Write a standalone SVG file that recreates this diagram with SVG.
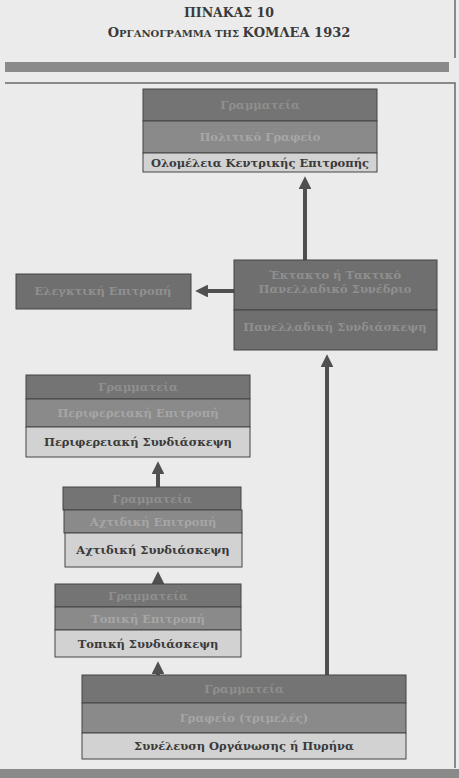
<svg xmlns="http://www.w3.org/2000/svg" width="459" height="778" viewBox="0 0 459 778">
<style>
.bg{fill:#ebebeb}
.frame{stroke:#6a6a6a;stroke-width:1.5;fill:none}
.bar{fill:#8a8a8a}
.r1{fill:#747474;stroke:#444;stroke-width:1}
.r2{fill:#8a8a8a;stroke:#444;stroke-width:1}
.r3{fill:#d2d2d2;stroke:#444;stroke-width:1}
.dk{fill:#6f6f6f;stroke:#444;stroke-width:1}
.t{font-family:"DejaVu Serif","Liberation Serif",serif;font-weight:bold;text-anchor:middle;font-size:11.5px}
.tl{fill:#3a3a3a}
.td{fill:#8f8f8f}
.tm{fill:#a6a6a6}
.title{font-family:"DejaVu Serif","Liberation Serif",serif;font-weight:bold;text-anchor:middle;fill:#3a3a3a}
.ar{stroke:#505050;stroke-width:4;fill:none}
</style>
<defs>
<marker id="ah" viewBox="0 0 10 10" refX="7" refY="5" markerWidth="3.2" markerHeight="3.2" orient="auto" markerUnits="strokeWidth">
<path d="M0,0 L10,5 L0,10 z" fill="#505050"/>
</marker>
</defs>
<rect class="bg" x="0" y="0" width="459" height="778"/>
<g id="header">
<path class="frame" d="M455,0 V58"/>
<text class="title" x="229" y="17" font-size="12.5">ΠΙΝΑΚΑΣ 10</text>
<text class="title" x="229" y="37" font-size="13">Ο<tspan font-size="10">ΡΓΑΝΟΓΡΑΜΜΑ ΤΗΣ </tspan>ΚΟΜΛΕΑ 1932</text>
<rect class="bar" x="5" y="62" width="444" height="10"/>
<path class="frame" d="M5,83 H455 V768"/>
<rect class="bar" x="0" y="769" width="459" height="9"/>
</g>
<g id="connectors">
<line class="ar" x1="305" y1="260" x2="305" y2="180" marker-end="url(#ah)"/>
<line class="ar" x1="234" y1="291" x2="199" y2="291" marker-end="url(#ah)"/>
<line class="ar" x1="327" y1="676" x2="327" y2="358" marker-end="url(#ah)"/>
<line class="ar" x1="158" y1="487" x2="158" y2="465" marker-end="url(#ah)"/>
<line class="ar" x1="158" y1="584" x2="158" y2="575" marker-end="url(#ah)"/>
<line class="ar" x1="158" y1="676" x2="158" y2="665" marker-end="url(#ah)"/>
</g>
<g id="central">
<rect class="r1" x="143" y="89" width="234" height="32"/>
<rect class="r2" x="143" y="121" width="234" height="32"/>
<rect class="r3" x="143" y="153" width="234" height="19"/>
<text class="t td" x="260" y="109">Γραμματεία</text>
<text class="t tm" x="260" y="141">Πολιτικό Γραφείο</text>
<text class="t tl" x="260" y="167">Ολομέλεια Κεντρικής Επιτροπής</text>
</g>
<g id="control">
<rect class="dk" x="16" y="274" width="175" height="35"/>
<text class="t td" x="103" y="295">Ελεγκτική Επιτροπή</text>
</g>
<g id="congress">
<rect class="dk" x="234" y="260" width="203" height="50"/>
<rect class="dk" x="234" y="310" width="203" height="40"/>
<text class="t td" x="335" y="279">Έκτακτο ή Τακτικό</text>
<text class="t td" x="335" y="293">Πανελλαδικό Συνέδριο</text>
<text class="t td" x="335" y="331">Πανελλαδική Συνδιάσκεψη</text>
</g>
<g id="regional">
<rect class="r1" x="26" y="375" width="224" height="24"/>
<rect class="r2" x="26" y="399" width="224" height="28"/>
<rect class="r3" x="26" y="427" width="224" height="30"/>
<text class="t td" x="138" y="391">Γραμματεία</text>
<text class="t tm" x="138" y="417">Περιφερειακή Επιτροπή</text>
<text class="t tl" x="138" y="446">Περιφερειακή Συνδιάσκεψη</text>
</g>
<g id="ray">
<rect class="r1" x="63" y="487" width="178" height="23"/>
<rect class="r2" x="64" y="510" width="178" height="23"/>
<rect class="r3" x="65" y="533" width="177" height="34"/>
<text class="t td" x="152" y="503">Γραμματεία</text>
<text class="t tm" x="153" y="526">Αχτιδική Επιτροπή</text>
<text class="t tl" x="153" y="554">Αχτιδική Συνδιάσκεψη</text>
</g>
<g id="local">
<rect class="r1" x="55" y="584" width="186" height="23"/>
<rect class="r2" x="55" y="607" width="186" height="23"/>
<rect class="r3" x="55" y="630" width="186" height="27"/>
<text class="t td" x="148" y="600">Γραμματεία</text>
<text class="t tm" x="148" y="623">Τοπική Επιτροπή</text>
<text class="t tl" x="148" y="648">Τοπική Συνδιάσκεψη</text>
</g>
<g id="cell">
<rect class="r1" x="82" y="675" width="324" height="28"/>
<rect class="r2" x="82" y="703" width="324" height="30"/>
<rect class="r3" x="82" y="733" width="324" height="26"/>
<text class="t td" x="244" y="693">Γραμματεία</text>
<text class="t tm" x="244" y="722">Γραφείο (τριμελές)</text>
<text class="t tl" x="244" y="750">Συνέλευση Οργάνωσης ή Πυρήνα</text>
</g>
</svg>
